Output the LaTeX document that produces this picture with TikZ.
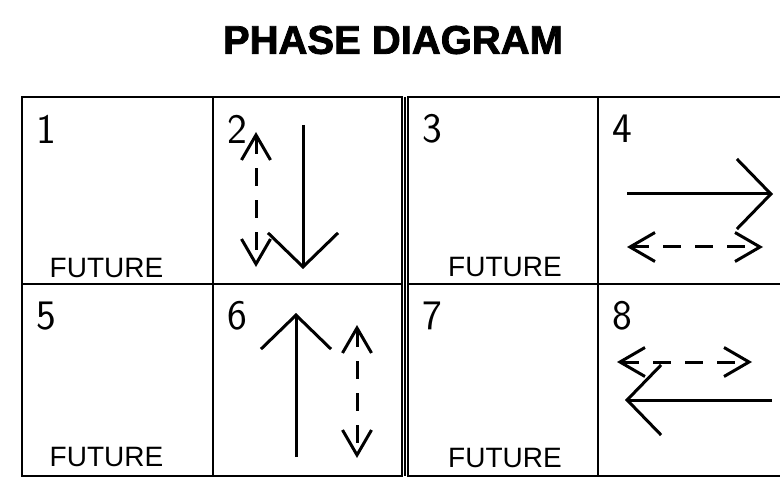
\documentclass[tikz,border=0pt]{standalone}
\usepackage{fontspec}
\setmainfont{Liberation Sans}
\newfontfamily\heavyfont[FakeBold=2]{Liberation Sans Bold}
\usetikzlibrary{arrows.meta,positioning}
\tikzset{
	%Define style for grid cells
	cell/.style={
		rectangle,
		draw=black, line width=1.6pt,
		inner sep=0pt, outer sep=0pt,
		minimum width=#1},
	toprow/.style={minimum height=187pt},
	botrow/.style={minimum height=192pt},
	%Define style for cell numbers and labels
	num/.style={font=\sffamily\fontsize{42}{42}\selectfont, inner sep=0pt},
	fut/.style={font=\fontsize{28}{28}\selectfont, inner sep=0pt},
	% Define arrow styles
	bigpil/.style={
		-{Straight Barb[length=34pt,width=70pt]},
		line width=3pt},
	dashpil/.style={
		{Straight Barb[length=25pt,width=29pt]}-{Straight Barb[length=25pt,width=29pt]},
		line width=3pt,
		dash pattern=on 18pt off 14pt}
}
\begin{document}
\begin{tikzpicture}[x=1pt, y=-1pt, node distance=0pt]
	\useasboundingbox (0,0) rectangle (780,484);
	\clip (0,0) rectangle (780,484);

	\node[font=\heavyfont\fontsize{40}{40}\selectfont] (title) at (393,40) {PHASE DIAGRAM};

	% grid
	\node[cell=191pt, toprow] (c1) at (117.5,190.5) {};
	\node[cell=189pt, toprow, right = 0pt of c1] (c2) {};
	\node[cell=190pt, toprow, right = 6pt of c2] (c3) {};
	\node[cell=191pt, toprow, right = 0pt of c3] (c4) {};
	\node[cell=191pt, botrow, below = 0pt of c1] (c5) {};
	\node[cell=189pt, botrow, below = 0pt of c2] (c6) {};
	\node[cell=190pt, botrow, below = 0pt of c3] (c7) {};
	\node[cell=191pt, botrow, below = 0pt of c4] (c8) {};
	\draw[line width=1.6pt] ([xshift=3pt]c2.north east) -- ([xshift=3pt]c6.south east);

	\foreach \i in {1,...,8}
		\node[num] (n\i) at ([xshift=24pt,yshift=-32pt]c\i.north west) {\i};

	\node[fut] (f1) at ([xshift=-11pt,yshift=16pt]c1.south) {FUTURE};
	\node[fut] (f3) at ([xshift=2pt,yshift=17pt]c3.south) {FUTURE};
	\node[fut] (f5) at ([xshift=-11pt,yshift=19pt]c5.south) {FUTURE};
	\node[fut] (f7) at ([xshift=2pt,yshift=18pt]c7.south) {FUTURE};

	% arrow ends
	\coordinate (s2a) at (303,125);  \coordinate (s2b) at (303,269);
	\coordinate (d2a) at (256,132);  \coordinate (d2b) at (256,267);
	\coordinate (s4a) at (627,194);  \coordinate (s4b) at (773,194);
	\coordinate (d4a) at (627,247);  \coordinate (d4b) at (763,247);
	\coordinate (s6a) at (296,457);  \coordinate (s6b) at (296,313);
	\coordinate (d6a) at (357,325);  \coordinate (d6b) at (357,458);
	\coordinate (d8a) at (617,362);  \coordinate (d8b) at (752,362);
	\coordinate (s8a) at (772,400);  \coordinate (s8b) at (625,400);

	\draw[bigpil] (s2a) -- (s2b);
	\draw[dashpil] (d2a) -- (d2b);
	\draw[bigpil] (s4a) -- (s4b);
	\draw[dashpil] (d4a) -- (d4b);
	\draw[bigpil] (s6a) -- (s6b);
	\draw[dashpil] (d6a) -- (d6b);
	\draw[dashpil] (d8a) -- (d8b);
	\draw[bigpil] (s8a) -- (s8b);
\end{tikzpicture}
\end{document}
